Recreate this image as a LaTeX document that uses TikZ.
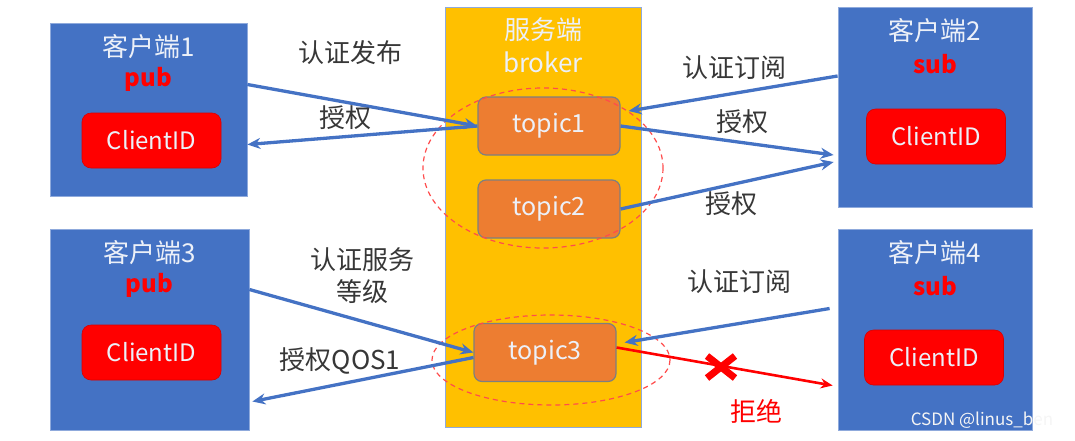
\documentclass[tikz,border=0pt]{standalone}
\usepackage{fontspec}
\setmainfont{Noto Sans CJK SC}
\usetikzlibrary{arrows.meta, positioning}
\definecolor{BoxBlue}{RGB}{68,114,196}
\definecolor{BoxEdge}{RGB}{143,170,220}
\definecolor{BrokerGold}{RGB}{255,192,0}
\definecolor{TopicOrange}{RGB}{237,125,49}
\definecolor{TopicEdge}{RGB}{127,127,127}
\definecolor{IdRed}{RGB}{255,0,0}
\definecolor{LabelGray}{RGB}{55,55,55}
\definecolor{SoftWhite}{RGB}{236,240,248}

\tikzset{
  client/.style={draw=BoxEdge, line width=0.8pt, fill=BoxBlue, inner sep=0pt},
  broker/.style={draw=BoxEdge, line width=0.8pt, fill=BrokerGold, inner sep=0pt},
  idbox/.style={fill=IdRed, draw=IdRed!85!black, line width=0.6pt, rounded corners=9pt,
    minimum width=139pt, minimum height=55pt, inner sep=0pt,
    text=SoftWhite, font=\fontsize{24}{26}\selectfont},
  topic/.style={fill=TopicOrange, draw=TopicEdge, line width=1.2pt, rounded corners=8pt,
    minimum width=142pt, minimum height=58pt, inner sep=0pt,
    text=SoftWhite, font=\fontsize{25}{27}\selectfont},
  title/.style={text=SoftWhite, inner sep=0pt, font=\fontsize{26}{28}\selectfont},
  role/.style={text=IdRed, inner sep=0pt, font=\fontsize{24}{26}\selectfont\bfseries},
  lbl/.style={text=LabelGray, inner sep=0pt, align=center, font=\fontsize{26}{32}\selectfont},
  link/.style={draw=BoxBlue, line width=3.3pt, -{Stealth[length=13pt,width=11pt]}},
  deny/.style={draw=IdRed, line width=2.6pt, -{Stealth[length=12pt,width=10pt]}},
  group/.style={draw=IdRed!70, line width=1.2pt, dash pattern=on 5pt off 4pt},
  cross/.style={draw=IdRed, line width=7pt},
  watermark/.style={text=white!92!gray, inner sep=0pt, font=\fontsize{17}{19}\selectfont},
}

\begin{document}
\begin{tikzpicture}[x=1pt,y=-1pt]
  \path[use as bounding box] (0,0) rectangle (1075,440);

  % broker column with its topics
  \node[broker, minimum width=196pt, minimum height=420pt] (broker) at (543,217) {};
  \node[title] (brokername) at (543,30) {服务端};
  \node[title] (brokertag) at (543,62) {broker};

  \node[topic] (t1) at (549,126) {topic1};
  \node[topic] (t2) at (549,209) {topic2};
  \node[topic] (t3) at (545,352.5) {topic3};

  \draw[group] (543,168) ellipse [x radius=120, y radius=80];
  \draw[group] (551,360) ellipse [x radius=119, y radius=45];

  % four clients
  \foreach \n/\x/\y/\w/\h/\role/\ix/\iy in {1/148.5/109.5/197/173/pub/151.5/140.5,
      2/935/107/194/200/sub/936/136.5, 3/149.5/329.5/199/201/pub/151.5/352.5,
      4/935/329.5/194/201/sub/934/357.5}{
    \node[client, minimum width=\w pt, minimum height=\h pt] (c\n) at (\x,\y) {};
    \node[title] (c\n name) at ([yshift=-24pt]c\n.north) {客户端\n};
    \node[role] (c\n role) at ([yshift=-57pt]c\n.north) {\role};
    \node[idbox] (id\n) at (\ix,\iy) {ClientID};
  }

  % connectors
  \draw[link] ([yshift=25pt]c1.east) -- (t1.west);
  \draw[link] (t1.west) -- ([yshift=-35pt]c1.east);
  \draw[link] ([yshift=31pt]c2.west) -- ([xshift=8pt,yshift=15pt]t1.east);
  \draw[link] (t1.east) -- ([xshift=-4pt,yshift=-48pt]c2.west);
  \draw[link] (t2.east) -- ([xshift=-4pt,yshift=-55pt]c2.west);
  \draw[link] ([yshift=40pt]c3.east) -- (t3.west);
  \draw[link] ([yshift=-5pt]t3.west) -- ([xshift=3pt,yshift=-72pt]c3.east);
  \draw[link] ([xshift=-8pt,yshift=21pt]c4.west) -- ([xshift=8pt,yshift=10pt]t3.east);
  \draw[deny] ([yshift=5pt]t3.east) -- ([xshift=-5pt,yshift=-56pt]c4.west);

  % rejected mark
  \coordinate (xmark) at (721,367);
  \draw[cross] ([shift={(-14,-11)}]xmark) -- ([shift={(14,11)}]xmark);
  \draw[cross] ([shift={(-14,11)}]xmark) -- ([shift={(14,-11)}]xmark);

  % labels
  \node[lbl] (l1) at (350,53) {认证发布};
  \node[lbl] (l2) at (345,118) {授权};
  \node[lbl] (l3) at (734,68) {认证订阅};
  \node[lbl] (l4) at (742,122) {授权};
  \node[lbl] (l5) at (731,204) {授权};
  \node[lbl] (l6) at (362,276) {认证服务\\等级};
  \node[lbl] (l7) at (340,361) {授权QOS1};
  \node[lbl] (l8) at (739,282) {认证订阅};
  \node[lbl, text=IdRed] (l9) at (756,411) {拒绝};

  \node[watermark] (wm) at (982,420) {CSDN @linus\_ben};
\end{tikzpicture}
\end{document}
